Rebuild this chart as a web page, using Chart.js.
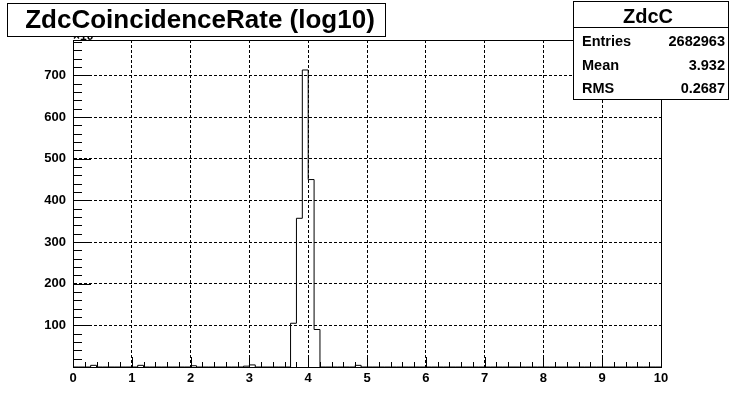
<!DOCTYPE html>
<html>
<head>
<meta charset="utf-8">
<script src="https://cdn.jsdelivr.net/npm/chart.js@4/dist/chart.umd.min.js"></script>
<style>
  html, body { margin: 0; padding: 0; background: #fff; }
  #wrap { width: 735px; height: 408px; }
</style>
</head>
<body>
<div id="wrap"><canvas id="c" width="735" height="408"></canvas></div>
<script>
// histogram: 100 bins of width 0.1 from 0 to 10, counts in units of 10^3
const xMin = 0;
const xMax = 10;
const binWidth = 0.1;
const counts = [
  0, 0, 0, 4, 0, 0, 0, 0, 0, 0,
  0, 4, 0, 0, 0, 0, 0, 0, 0, 0,
  3, 0, 0, 0, 0, 0, 0, 0, 0, 2,
  5, 0, 0, 0, 0, 0, 0, 105, 357, 713,
  450, 90, 0, 0, 0, 0, 0, 0, 4, 0,
  0, 0, 0, 0, 0, 0, 0, 0, 0, 0,
  0, 0, 0, 0, 0, 0, 0, 0, 0, 0,
  0, 0, 0, 0, 0, 0, 0, 0, 0, 0,
  0, 0, 0, 0, 0, 0, 0, 0, 0, 0,
  0, 0, 0, 0, 0, 0, 0, 0, 0, 0
];
const yMax = 785;
const titleText = "ZdcCoincidenceRate (log10)";
const statsName = "ZdcC";
const statsLabels = ["Entries", "Mean", "RMS"];
const statsValues = ["2682963", "3.932", "0.2687"];

const FONT = '"Liberation Sans", Arial, Helvetica, sans-serif';

// step outline: one point per bin lower edge plus the closing edge
const points = counts.map((v, i) => ({ x: xMin + i * binWidth, y: v }));
points.push({ x: xMax, y: counts[counts.length - 1] });

const rootDecor = {
  id: "rootDecor",
  afterDraw(chart) {
    const ctx = chart.ctx;
    const a = chart.chartArea;
    const xs = chart.scales.x;
    const ys = chart.scales.y;
    const L = Math.round(a.left), R = Math.round(a.right);
    const T = Math.round(a.top), B = Math.round(a.bottom);
    ctx.save();
    ctx.fillStyle = "#000";

    // tick marks drawn inwards (1px rects)
    for (let k = 0; k <= 50; k++) {
      const px = Math.round(xs.getPixelForValue(k * 0.2));
      const len = k % 5 === 0 ? 10 : 5;
      ctx.fillRect(px, B - len, 1, len);
    }
    for (let k = 0; k * 20 <= yMax; k++) {
      const py = Math.round(ys.getPixelForValue(k * 20));
      const len = k % 5 === 0 ? 18 : 9;
      ctx.fillRect(L, py, len, 1);
    }

    // frame
    ctx.fillRect(L, T, R - L + 1, 1);
    ctx.fillRect(L, B, R - L + 1, 1);
    ctx.fillRect(L, T, 1, B - T + 1);
    ctx.fillRect(R, T, 1, B - T + 1);

    // axis multiplier, mostly covered by the title box
    ctx.font = "bold 12px " + FONT;
    ctx.textAlign = "left";
    ctx.textBaseline = "alphabetic";
    ctx.fillText("\u00d710\u00b3", L, 40);

    // title box
    ctx.fillStyle = "#fff";
    ctx.fillRect(7, 3, 378, 33);
    ctx.fillStyle = "#000";
    ctx.fillRect(7, 3, 379, 1);
    ctx.fillRect(7, 36, 379, 1);
    ctx.fillRect(7, 3, 1, 34);
    ctx.fillRect(385, 3, 1, 34);
    ctx.font = "bold 26px " + FONT;
    ctx.textAlign = "center";
    ctx.textBaseline = "middle";
    ctx.fillText(titleText, 200, 21);

    // stats box
    ctx.fillStyle = "#fff";
    ctx.fillRect(573, 1, 155, 98);
    ctx.fillStyle = "#000";
    ctx.fillRect(573, 1, 156, 1);
    ctx.fillRect(573, 99, 156, 1);
    ctx.fillRect(573, 1, 1, 99);
    ctx.fillRect(728, 1, 1, 99);
    ctx.fillRect(573, 27, 156, 1);
    ctx.font = "bold 20px " + FONT;
    ctx.textAlign = "center";
    ctx.fillText(statsName, 648, 17);
    ctx.font = "bold 14.5px " + FONT;
    const rowY = [42, 66, 89];
    statsLabels.forEach((lab, i) => {
      ctx.textAlign = "left";
      ctx.fillText(lab, 582, rowY[i]);
      ctx.textAlign = "right";
      ctx.fillText(statsValues[i], 725, rowY[i]);
    });
    ctx.restore();
  }
};

new Chart(document.getElementById("c"), {
  type: "line",
  data: {
    datasets: [{
      data: points,
      stepped: true,
      borderColor: "#000",
      borderWidth: 1,
      pointRadius: 0,
      fill: false
    }]
  },
  options: {
    responsive: false,
    animation: false,
    events: [],
    layout: { padding: { top: 40, right: 74, left: 0, bottom: 0 } },
    plugins: { legend: { display: false }, tooltip: { enabled: false }, title: { display: false } },
    scales: {
      x: {
        type: "linear",
        min: xMin,
        max: xMax,
        afterFit: s => { s.height = 41; },
        grid: { color: "#000", lineWidth: 1, drawTicks: false },
        border: { display: true, color: "#000", dash: [3, 2] },
        ticks: {
          stepSize: 1,
          padding: 4,
          color: "#000",
          font: { family: FONT, size: 13, weight: "bold" },
          maxRotation: 0
        }
      },
      y: {
        type: "linear",
        min: 0,
        max: yMax,
        afterFit: s => { s.width = 73; },
        afterBuildTicks: s => { s.ticks = s.ticks.filter(t => t.value % 100 === 0); },
        grid: { color: "#000", lineWidth: 1, drawTicks: false },
        border: { display: true, color: "#000", dash: [3, 2] },
        ticks: {
          stepSize: 100,
          padding: 7,
          color: "#000",
          font: { family: FONT, size: 13, weight: "bold" },
          callback: v => (v === 0 ? "" : String(v))
        }
      }
    }
  },
  plugins: [rootDecor]
});
</script>
</body>
</html>
